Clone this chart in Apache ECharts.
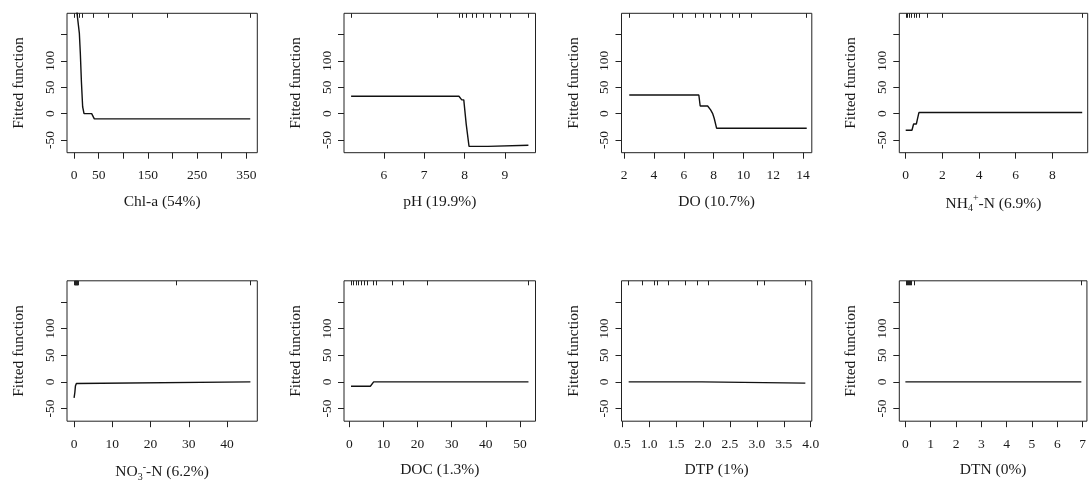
<!DOCTYPE html>
<html>
<head>
<meta charset="utf-8">
<script src="https://cdn.jsdelivr.net/npm/echarts@6/dist/echarts.min.js"></script>
<style>html,body{margin:0;padding:0;background:#fff;}#c{width:1089px;height:486px;}</style>
</head>
<body>
<div id="c"></div>
<script>
// ---- data ----
const yTicks = [-50, 0, 50, 100, 150];
const yLabels = [-50, 0, 50, 100];

const chlX = [3, 6.1, 10.8, 12.8, 15, 17.5, 20.3, 35.8, 41.2, 358];
const chlY = [320, 190, 152, 114, 60, 13, 0, 0, -10, -10];
const chlRug = [1.4, 6, 10.7, 16.8, 39, 69.5, 119, 189, 358];
const chlTicks = [0, 50, 100, 150, 200, 250, 300, 350];
const chlLabels = [0, 50, 150, 250, 350];

const phX = [5.19, 7.86, 7.93, 7.98, 8.04, 8.11, 8.58, 8.6, 9.58];
const phY = [33, 33, 26, 26, -20, -62, -62, -60, -60];
const phRug = [5.19, 7.33, 7.88, 7.95, 8.04, 8.19, 8.3, 8.47, 8.64, 8.89, 9.13, 9.58];
const phTicks = [6, 7, 8, 9];
const phLabels = [6, 7, 8, 9];

const doX = [2.34, 7.01, 7.1, 7.6, 7.8, 7.93, 8.04, 8.2, 14.25];
const doY = [35.3, 35.3, 14.5, 14.5, 7, 0.6, -8.7, -27.6, -27.6];
const doRug = [2.34, 5.26, 5.89, 6.79, 7.28, 7.8, 8.45, 9.24, 9.69, 10.54, 14.2];
const doTicks = [2, 4, 6, 8, 10, 12, 14];
const doLabels = [2, 4, 6, 8, 10, 12, 14];

const nhX = [0, 0.34, 0.43, 0.58, 0.63, 0.72, 9.63];
const nhY = [-31.5, -31.5, -19.6, -19.6, -12, 2, 2];
const nhRug = [0.02, 0.1, 0.2, 0.3, 0.45, 0.6, 0.75, 1.2, 2.0, 9.63];
const nhTicks = [0, 2, 4, 6, 8];
const nhLabels = [0, 2, 4, 6, 8];

const noX = [0, 0.2, 0.35, 0.6, 1.1, 46.1];
const noY = [-30, -20, -8, -3, 0, 0];
const noRug = [0.05, 0.2, 0.35, 0.5, 0.65, 0.8, 0.95, 1.1, 26.8, 46.1];
const noTicks = [0, 10, 20, 30, 40];
const noLabels = [0, 10, 20, 30, 40];

const docX = [0.5, 6.16, 7.14, 52.5];
const docY = [-8.2, -8.2, 0, 0];
const docRug = [0.5, 1.28, 1.96, 2.75, 3.5, 4.3, 5.4, 7.1, 8.0, 12.7, 15.7, 22.8, 52.5];
const docTicks = [0, 10, 20, 30, 40, 50];
const docLabels = [0, 10, 20, 30, 40, 50];

const dtpX = [0.62, 1.98, 2.0, 3.9];
const dtpY = [0, 0, -2.5, -2.5];
const dtpRug = [0.62, 0.88, 1.09, 1.15, 1.35, 1.67, 1.9, 2.09, 3.0, 3.13, 3.9];
const dtpTicks = [0.5, 1.0, 1.5, 2.0, 2.5, 3.0, 3.5, 4.0];
const dtpLabels = [0.5, 1.0, 1.5, 2.0, 2.5, 3.0, 3.5, 4.0];

const dtnX = [0, 6.95];
const dtnY = [0, 0];
const dtnRug = [0.02, 0.06, 0.1, 0.14, 0.18, 0.22, 0.35, 6.95];
const dtnTicks = [0, 1, 2, 3, 4, 5, 6, 7];
const dtnLabels = [0, 1, 2, 3, 4, 5, 6, 7];

const names = [
  'Chl-a (54%)', 'pH (19.9%)', 'DO (10.7%)', '{n|NH}{s|4}{p|+}{n|-N (6.9%)}',
  '{n|NO}{s|3}{p|-}{n|-N (6.2%)}', 'DOC (1.3%)', 'DTP (1%)', 'DTN (0%)'
];

// ---- layout ----
const FONT = 'Liberation Serif';
const TXT = '#1a1a1a';
const colLeft = [67, 344, 621.5, 899.3];
const colWidth = [190.3, 191.5, 190.3, 188.4];
const rowTop = [13.3, 280.8];
const rowHeight = [139.4, 140.4];
const xRange = [
  [-14.3, 372.3], [5.014, 9.756], [1.82, 14.59], [-0.35, 9.93],
  [-1.85, 47.9], [-1.56, 54.56], [0.487, 4.02], [-0.24, 7.17]
];
const yRange = [-74, 190];

const panels = [
  [chlX, chlY, chlRug, chlTicks, chlLabels],
  [phX, phY, phRug, phTicks, phLabels],
  [doX, doY, doRug, doTicks, doLabels],
  [nhX, nhY, nhRug, nhTicks, nhLabels],
  [noX, noY, noRug, noTicks, noLabels],
  [docX, docY, docRug, docTicks, docLabels],
  [dtpX, dtpY, dtpRug, dtpTicks, dtpLabels],
  [dtnX, dtnY, dtnRug, dtnTicks, dtnLabels]
];

const grid = [], xAxis = [], yAxis = [], series = [];
panels.forEach((p, i) => {
  const r = Math.floor(i / 4), c = i % 4;
  const [xs, ys, rug, ticks, labels] = p;
  grid.push({
    left: colLeft[c], top: rowTop[r], width: colWidth[c], height: rowHeight[r],
    show: true, borderColor: '#222', borderWidth: 1, backgroundColor: 'transparent'
  });
  const dec = (i === 6) ? 1 : 0;
  xAxis.push({
    type: 'value', gridIndex: i, position: 'bottom',
    min: xRange[i][0], max: xRange[i][1],
    axisLine: { show: false, onZero: false },
    splitLine: { show: false },
    axisTick: { show: true, inside: false, length: 6, customValues: ticks, lineStyle: { color: '#222', width: 1 } },
    axisLabel: {
      show: true, customValues: labels, margin: 16, color: TXT,
      fontFamily: FONT, fontSize: 13.5,
      formatter: v => dec ? v.toFixed(1) : String(v)
    },
    name: names[i], nameLocation: 'middle', nameGap: 41,
    nameTextStyle: {
      color: TXT, fontFamily: FONT, fontSize: 15.5,
      rich: {
        n: { fontFamily: FONT, fontSize: 15.5, color: TXT, lineHeight: 20 },
        s: { fontFamily: FONT, fontSize: 10, color: TXT, lineHeight: 10, verticalAlign: 'bottom' },
        p: { fontFamily: FONT, fontSize: 10, color: TXT, lineHeight: 10, verticalAlign: 'top' }
      }
    }
  });
  // rug on top side
  xAxis.push({
    type: 'value', gridIndex: i, position: 'top',
    min: xRange[i][0], max: xRange[i][1],
    axisLine: { show: false, onZero: false }, splitLine: { show: false },
    axisTick: { show: true, inside: true, length: 4.5, customValues: rug, lineStyle: { color: '#222', width: 1 } },
    axisLabel: { show: false }
  });
  yAxis.push({
    type: 'value', gridIndex: i, min: yRange[0], max: yRange[1],
    axisLine: { show: false, onZero: false }, splitLine: { show: false },
    axisTick: { show: true, inside: false, length: 6, customValues: yTicks, lineStyle: { color: '#222', width: 1 } },
    axisLabel: {
      show: true, customValues: yLabels, rotate: 90, margin: 10, color: TXT,
      fontFamily: FONT, fontSize: 13.5
    },
    name: 'Fitted function', nameLocation: 'middle', nameGap: 40, nameRotate: 90,
    nameTextStyle: { color: TXT, fontFamily: FONT, fontSize: 15.5 }
  });
  series.push({
    type: 'line', xAxisIndex: 2 * i, yAxisIndex: i,
    data: xs.map((x, k) => [x, ys[k]]),
    showSymbol: false, symbol: 'none', clip: true,
    lineStyle: { color: '#111', width: 1.4 },
    animation: false
  });
});

const chart = echarts.init(document.getElementById('c'), null, { renderer: 'canvas' });
chart.setOption({
  backgroundColor: '#fff',
  animation: false,
  grid, xAxis, yAxis, series
});
</script>
</body>
</html>
